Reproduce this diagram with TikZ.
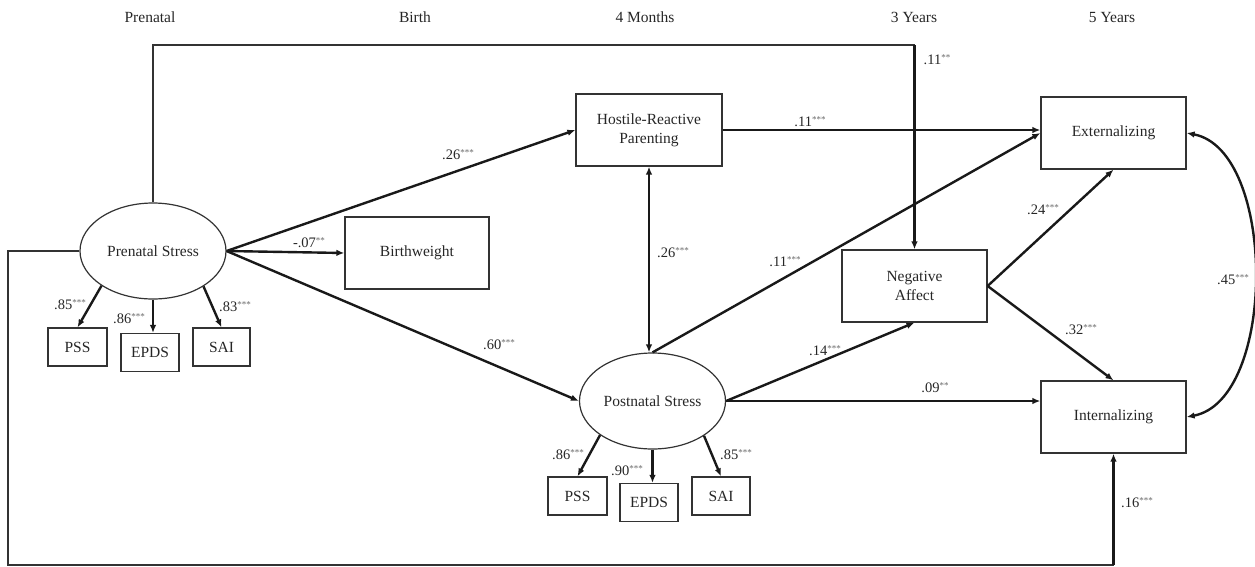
\documentclass[tikz,border=0pt]{standalone}
\usepackage{fontspec}
\setmainfont{Liberation Serif}
\usetikzlibrary{shapes.geometric,arrows.meta}
\newcommand\lv[2]{#1\raisebox{0.6ex}{\fontsize{9}{9}\selectfont\color{black!60}#2}}
\begin{document}
\begin{tikzpicture}[x=1pt,y=-1pt,
  every node/.style={font=\fontsize{15.5}{19}\selectfont,text=black!85},
  box/.style={draw=black!80,line width=1.2pt,inner sep=0pt,align=center,minimum width=145pt,minimum height=72pt},
  ind/.style={draw=black!80,line width=1.2pt,inner sep=0pt,minimum width=58pt,minimum height=38pt},
  lat/.style={draw=black!80,line width=1.2pt,ellipse,inner sep=0pt,minimum width=146pt,minimum height=96pt},
  arr/.style={line width=2.4pt,draw=black!90,-{Latex[length=8pt,width=6.5pt]}},
  darr/.style={line width=2.4pt,draw=black!90,{Latex[length=8pt,width=6.5pt]}-{Latex[length=8pt,width=6.5pt]}},
  thinline/.style={line width=1.2pt,draw=black!80},
  lab/.style={font=\fontsize{14.5}{16}\selectfont,inner sep=0pt}]
\useasboundingbox (0,0) rectangle (1255,566);
% headers
\node (h1) at (150,17) {Prenatal};
\node (h2) at (415,17) {Birth};
\node (h3) at (645,17) {4 Months};
\node (h4) at (914,17) {3 Years};
\node (h5) at (1112,17) {5 Years};
% latent variables
\node[lat] (pre) at (153,251) {Prenatal Stress};
\node[lat] (post) at (652.5,401) {Postnatal Stress};
% boxes
\node[box,minimum width=144pt] (bw) at (417,253) {Birthweight};
\node[box,minimum width=146pt] (hrp) at (649,130) {Hostile-Reactive\\Parenting};
\node[box] (na) at (914.5,286) {Negative\\Affect};
\node[box] (ext) at (1113.5,133) {Externalizing};
\node[box] (int) at (1113.5,417) {Internalizing};
% indicators
\node[ind,minimum width=59pt] (pss1) at (77.5,347) {PSS};
\node[ind] (epds1) at (150,352.5) {EPDS};
\node[ind,minimum width=57pt] (sai1) at (221.5,347) {SAI};
\node[ind,minimum width=59pt] (pss2) at (577.5,496) {PSS};
\node[ind] (epds2) at (649,502.5) {EPDS};
\node[ind] (sai2) at (721,496) {SAI};
% indicator arrows
\draw[arr] (pre.214.7) -- (pss1.north);
\draw[arr] (pre.south) -- (pre.south |- epds1.north);
\draw[arr] (pre.325.3) -- (sai1.north);
\draw[arr] (post.213.4) -- (pss2.north);
\draw[arr] (post.south) -- (post.south |- epds2.north);
\draw[arr] (post.326.6) -- (sai2.north);
% structural paths
\draw[arr] (pre.east) -- (hrp.west);
\draw[arr] (pre.east) -- (bw.west);
\draw[arr] (pre.east) -- (post.west);
\draw[arr] (hrp.east) -- (hrp.east -| ext.west);
\draw[darr] (hrp.south) -- (hrp.south |- post.north);
\draw[arr] (post.north) -- (ext.west);
\draw[arr] (post.east) -- (na.south);
\draw[arr] (post.east) -- (post.east -| int.west);
\draw[arr] (na.east) -- (ext.south);
\draw[arr] (na.east) -- (int.north);
\draw[darr] (ext.east) .. controls (1277,150) and (1277,400) .. (int.east);
% top path
\coordinate (tl) at (153,45);
\coordinate (tr) at (914.5,45);
\draw[thinline] (pre.north) -- (tl) -- (tr);
\draw[arr] (tr) -- (na.north);
% bottom path
\coordinate (bl) at (8,565);
\coordinate (br) at (1113.5,565);
\draw[thinline] (pre.west) -| (bl) -- (br);
\draw[arr] (br) -- (int.south);
% labels
\node[lab] (l1) at (70,305) {\lv{.85}{***}};
\node[lab] (l2) at (129,319) {\lv{.86}{***}};
\node[lab] (l3) at (235,307) {\lv{.83}{***}};
\node[lab] (l4) at (568,455) {\lv{.86}{***}};
\node[lab] (l5) at (627,471) {\lv{.90}{***}};
\node[lab] (l6) at (736,455) {\lv{.85}{***}};
\node[lab] (l7) at (309,243) {\lv{-.07}{**}};
\node[lab] (l8) at (458,155) {\lv{.26}{***}};
\node[lab] (l9) at (499,345) {\lv{.60}{***}};
\node[lab] (l10) at (810,122) {\lv{.11}{***}};
\node[lab] (l11) at (673,253) {\lv{.26}{***}};
\node[lab] (l12) at (785,262) {\lv{.11}{***}};
\node[lab] (l13) at (937,60) {\lv{.11}{**}};
\node[lab] (l14) at (1043,210) {\lv{.24}{***}};
\node[lab] (l15) at (1081,330) {\lv{.32}{***}};
\node[lab] (l16) at (825,351) {\lv{.14}{***}};
\node[lab] (l17) at (935,388) {\lv{.09}{**}};
\node[lab] (l18) at (1233,280) {\lv{.45}{***}};
\node[lab] (l19) at (1137,503) {\lv{.16}{***}};
\end{tikzpicture}
\end{document}
